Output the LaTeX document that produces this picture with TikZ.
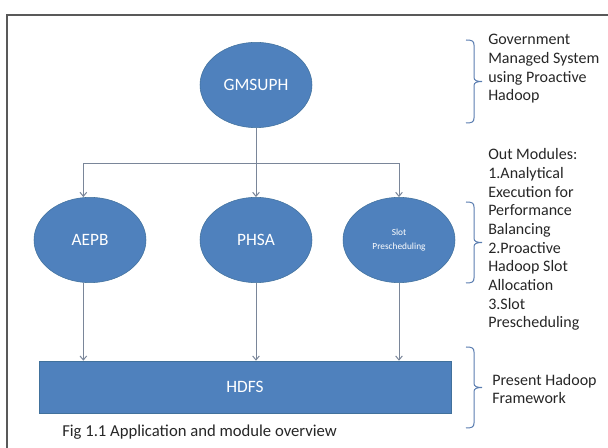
\documentclass[tikz,border=0pt]{standalone}
\usepackage{fontspec}
\setmainfont{Carlito}
\usetikzlibrary{shapes.geometric,arrows.meta}

\definecolor{officeblue}{HTML}{4F81BD}
\definecolor{officeedge}{HTML}{41719C}
\definecolor{linkgray}{HTML}{7A8699}
\definecolor{bracecol}{HTML}{5A7DB0}
\definecolor{framegray}{HTML}{595959}

\tikzstyle{module} = [ellipse, draw=officeedge, fill=officeblue, text=white, minimum width=84pt, minimum height=64pt, inner sep=0pt, font=\fontsize{13}{15}\selectfont]
\tikzstyle{layer} = [rectangle, draw=officeedge, fill=officeblue, text=white, minimum width=309pt, minimum height=39pt, font=\fontsize{13}{15}\selectfont]
\tikzstyle{wire} = [draw=linkgray, line width=0.75pt]
\tikzstyle{link} = [wire, -{Straight Barb[length=3pt,width=5pt]}]
\tikzstyle{note} = [anchor=base west, align=left, inner sep=0pt, text=black!85, font=\fontsize{12}{14}\selectfont]
\tikzstyle{curlyline} = [draw=bracecol, line width=0.75pt]

% right brace: x of the ends, top, bottom
\newcommand{\sidebrace}[3]{%
  \pgfmathsetmacro{\bmid}{(#2+#3)/2}%
  \draw[curlyline] (#1,#2) .. controls +(6,0) and +(0,-4) .. (#1+8,#2+5)
    -- (#1+8,\bmid-4) .. controls +(0,3) and +(-5,0) .. (#1+16,\bmid)
    .. controls +(-5,0) and +(0,-3) .. (#1+8,\bmid+4)
    -- (#1+8,#3-5) .. controls +(0,4) and +(6,0) .. (#1,#3);}

\begin{document}
\begin{tikzpicture}[x=0.75pt, y=-0.75pt]
\useasboundingbox (0,0) rectangle (608,448);
\draw[framegray, line width=2pt] (608,15) -- (7,15) -- (7,448);

% modules
\node[module] (gmsuph) at (256,85) {GMSUPH};
\node[module] (aepb) at (90,240) {AEPB};
\node[module] (phsa) at (256,240) {PHSA};
\node[module, align=center, font=\fontsize{7}{10}\selectfont] (slot) at (399,240) {Slot\\Prescheduling};
\node[layer] (hdfs) at (245,387) {HDFS};

% links
\coordinate (fork) at (256,164);
\draw[wire] (gmsuph) -- (fork);
\draw[link] (fork) -| ([xshift=-5pt]aepb.north);
\draw[link] (fork) -- (phsa);
\draw[link] (fork) -| (slot);
\draw[link] ([xshift=-5pt]aepb.south) -- ([xshift=-5pt]aepb.south |- hdfs.north);
\draw[link] (phsa) -- (phsa |- hdfs.north);
\draw[link] (slot) -- (slot |- hdfs.north);

% notes on the right (base = last line)
\sidebrace{466}{40}{123}
\node[note] (system) at (488,101) {Government\\Managed System\\using Proactive\\Hadoop};
\sidebrace{466}{202}{283}
\node[note] (modules) at (488,328) {Out Modules:\\1.Analytical\\Execution for\\Performance\\Balancing\\2.Proactive\\Hadoop Slot\\Allocation\\3.Slot\\Prescheduling};
\sidebrace{466}{347}{428}
\node[note] (framework) at (492,404) {Present Hadoop\\Framework};

\node[anchor=base west, inner sep=0pt, text=black!85, font=\fontsize{12.5}{14}\selectfont] (caption) at (62,437) {Fig 1.1 Application and module overview};
\end{tikzpicture}
\end{document}
